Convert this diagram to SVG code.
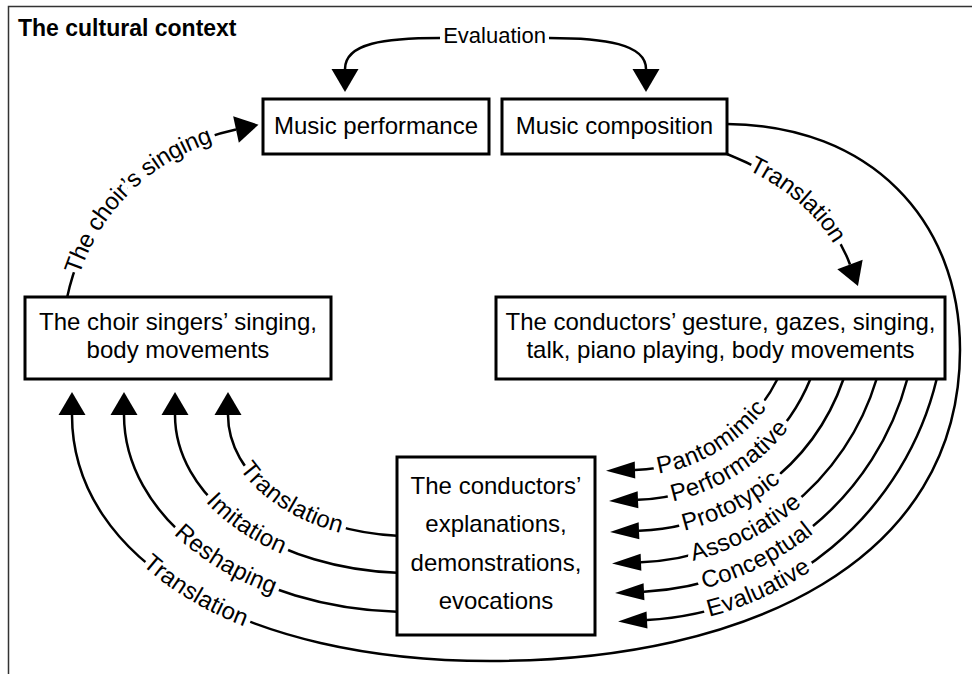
<svg xmlns="http://www.w3.org/2000/svg" width="972" height="674" viewBox="0 0 972 674">
<style>
.box{fill:#fff;stroke:#000;stroke-width:3}
.t{font-family:"Liberation Sans",Arial,Helvetica,sans-serif;font-size:24px;fill:#000;text-anchor:middle}
.title{font-family:"Liberation Sans",Arial,Helvetica,sans-serif;font-size:23px;font-weight:bold;fill:#000}
.ev{font-family:"Liberation Sans",Arial,Helvetica,sans-serif;font-size:22px;fill:#000;text-anchor:middle}
.c{fill:none;stroke:#000;stroke-width:2.5}
.lb{font-family:"Liberation Sans",Arial,Helvetica,sans-serif;font-size:24px;dominant-baseline:middle;text-anchor:middle}
.tp{fill:none;stroke:none}
</style>
<defs>
<marker id="ah" markerUnits="userSpaceOnUse" markerWidth="30" markerHeight="30" viewBox="0 -15 30 30" refX="0" refY="0" orient="auto" overflow="visible"><path d="M0,-13.5 L23,0 L0,13.5 Z" fill="#000"/></marker>
<marker id="al" markerUnits="userSpaceOnUse" markerWidth="32" markerHeight="20" viewBox="0 -10 32 20" refX="0" refY="0" orient="auto" overflow="visible"><path d="M0,-8.5 L29,0 L0,8.5 Z" fill="#000"/></marker>
<path id="p-sing" class="tp" d="M58.8,337.1 L67,298 C85,212 150,148 236,129.5 L275.1,121.1"/>
<path id="p-tr1" class="tp" d="M689.9,139.2 L727,154 C772,172 828,205 850,264.5 L863.9,302"/>
<path id="p-tr2" class="tp" d="M220.5,426.1 L241.3,460.3 A182,121 0 0 0 347.8,528.7 L386.7,538.1"/>
<path id="p-imi" class="tp" d="M179.7,462.2 L205.5,492.8 A235,158 0 0 0 290.7,551.1 L327.9,565.8"/>
<path id="p-res" class="tp" d="M143.8,494.9 L171.5,523.7 A286,197 0 0 0 283.3,591.6 L321.2,604.5"/>
<path id="p-tr3" class="tp" d="M113.2,531.3 L143,558 A330,330 0 0 0 250,622 L287.6,635.7"/>
<path id="p-pan" class="tp" d="M590.9,465.3 A165,165 0 0 0 790.3,344.1"/>
<path id="p-per" class="tp" d="M586.8,495.1 A195,195 0 0 0 820.1,348.2"/>
<path id="p-pro" class="tp" d="M560.2,519.9 A226,226 0 0 0 844.9,374.8"/>
<path id="p-ass" class="tp" d="M551.7,550.3 A257.5,257.5 0 0 0 875.3,383.3"/>
<path id="p-con" class="tp" d="M539.9,577.5 A287,287 0 0 0 902.5,395.1"/>
<path id="p-eva" class="tp" d="M518.5,600.1 A315.5,315.5 0 0 0 925.1,416.5"/>
<mask id="gap" maskUnits="userSpaceOnUse" x="0" y="0" width="972" height="674">
<rect x="0" y="0" width="972" height="674" fill="#fff"/>
<use href="#labels" fill="#000" stroke="#000" stroke-width="11" stroke-linejoin="round"/>
</mask>
</defs>

<path d="M8.5,674 V6.5 H972" fill="none" stroke="#333" stroke-width="1.5"/>
<text class="title" x="18" y="36">The cultural context</text>

<g id="connectors">
<g mask="url(#gap)">
<path class="c" marker-end="url(#ah)" d="M67,298 C85,212 150,148 236,129.5"/>
<path class="c" marker-end="url(#ah)" d="M727,154 C772,172 828,205 850,264.5"/>
<path class="c" marker-end="url(#ah)" d="M727,124 C870,125 960,220 960,350 C960,560 750,661 490,661 C243,661 72,560 72,415"/>
<path class="c" marker-end="url(#ah)" d="M397,535.7 A182,121 0 0 1 228,415"/>
<path class="c" marker-end="url(#ah)" d="M397,572.8 A235,158 0 0 1 175,415"/>
<path class="c" marker-end="url(#ah)" d="M397,611.8 A286,197 0 0 1 124,415"/>
<path class="c" marker-end="url(#al)" d="M777.5,379 A165,165 0 0 1 635,469.9"/>
<path class="c" marker-end="url(#al)" d="M810.4,379 A195,195 0 0 1 638,499.8"/>
<path class="c" marker-end="url(#al)" d="M843.5,379 A226,226 0 0 1 639,530.8"/>
<path class="c" marker-end="url(#al)" d="M876.6,379 A257.5,257.5 0 0 1 641,562.3"/>
<path class="c" marker-end="url(#al)" d="M907.3,379 A287,287 0 0 1 644,591.7"/>
<path class="c" marker-end="url(#al)" d="M936.7,379 A315.5,315.5 0 0 1 647,620"/>
</g>
<path class="c" marker-end="url(#ah)" d="M440,38 C385,38 345,43 345,69"/>
<path class="c" marker-end="url(#ah)" d="M549,38 C605,38 646,44 646,69"/>
</g>

<text class="ev" x="494.5" y="42.5">Evaluation</text>

<g id="labels" class="lb">
<text><textPath href="#p-sing" startOffset="50%">The choir’s singing</textPath></text>
<text><textPath href="#p-tr1" startOffset="50%">Translation</textPath></text>
<text><textPath href="#p-tr2" startOffset="50%">Translation</textPath></text>
<text><textPath href="#p-imi" startOffset="50%">Imitation</textPath></text>
<text><textPath href="#p-res" startOffset="50%">Reshaping</textPath></text>
<text><textPath href="#p-tr3" startOffset="50%">Translation</textPath></text>
<text><textPath href="#p-pan" startOffset="50%">Pantomimic</textPath></text>
<text><textPath href="#p-per" startOffset="50%">Performative</textPath></text>
<text><textPath href="#p-pro" startOffset="50%">Prototypic</textPath></text>
<text><textPath href="#p-ass" startOffset="50%">Associative</textPath></text>
<text><textPath href="#p-con" startOffset="50%">Conceptual</textPath></text>
<text><textPath href="#p-eva" startOffset="50%">Evaluative</textPath></text>
</g>

<g id="n-performance">
<rect class="box" x="263" y="99" width="226" height="55"/>
<text class="t" x="376" y="133.5">Music performance</text>
</g>
<g id="n-composition">
<rect class="box" x="502" y="99" width="225" height="55"/>
<text class="t" x="614.5" y="133.5">Music composition</text>
</g>
<g id="n-choir">
<rect class="box" x="25" y="297" width="306" height="82"/>
<text class="t" x="178" y="329.5">The choir singers’ singing,</text>
<text class="t" x="178" y="358">body movements</text>
</g>
<g id="n-conductor">
<rect class="box" x="496" y="297" width="449" height="82"/>
<text class="t" x="720.5" y="329.5">The conductors’ gesture, gazes, singing,</text>
<text class="t" x="720.5" y="358">talk, piano playing, body movements</text>
</g>
<g id="n-explanations">
<rect class="box" x="397" y="457" width="198" height="178"/>
<text class="t" x="496" y="493.5">The conductors’</text>
<text class="t" x="496" y="532">explanations,</text>
<text class="t" x="496" y="570.5">demonstrations,</text>
<text class="t" x="496" y="609">evocations</text>
</g>
</svg>
